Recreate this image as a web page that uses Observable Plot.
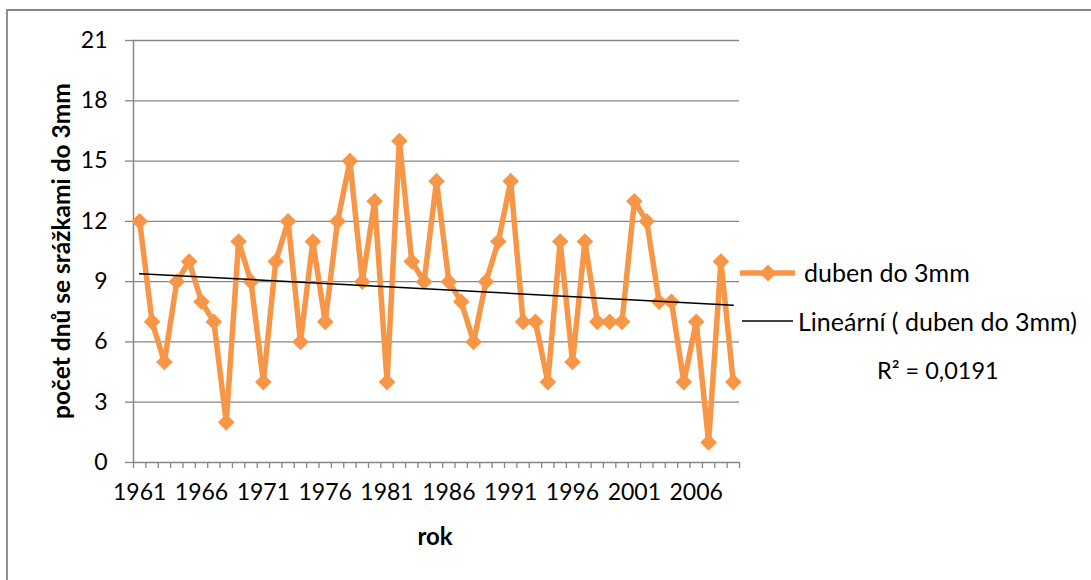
<!DOCTYPE html>
<html>
<head>
<meta charset="utf-8">
<script src="https://cdn.jsdelivr.net/npm/d3@7"></script>
<script src="https://cdn.jsdelivr.net/npm/@observablehq/plot@0.6"></script>
<style>
  html, body { margin: 0; padding: 0; background: #fff; }
  #chart { position: relative; width: 1091px; height: 580px; overflow: hidden; }
</style>
</head>
<body>
<div id="chart"></div>
<script>
// ---- data ----
const years = [1961,1962,1963,1964,1965,1966,1967,1968,1969,1970,
               1971,1972,1973,1974,1975,1976,1977,1978,1979,1980,
               1981,1982,1983,1984,1985,1986,1987,1988,1989,1990,
               1991,1992,1993,1994,1995,1996,1997,1998,1999,2000,
               2001,2002,2003,2004,2005,2006,2007,2008,2009];
const values = [12,7,5,9,10,8,7,2,11,9,
                4,10,12,6,11,7,12,15,9,13,
                4,16,10,9,14,9,8,6,9,11,
                14,7,7,4,11,5,11,7,7,7,
                13,12,8,8,4,7,1,10,4];
const xTickLabels = [1961,1966,1971,1976,1981,1986,1991,1996,2001,2006];
const yTicks = [0,3,6,9,12,15,18,21];
const seriesName = "duben do 3mm";
const trendName = "Lineární ( duben do 3mm)";
const r2Label = "R² = 0,0191";
const xTitle = "rok";
const yTitle = "počet dnů se srážkami do 3mm";

const data = years.map((y, i) => ({rok: y, dny: values[i]}));
const boundaries = years.map(y => y - 0.5).concat([years[years.length - 1] + 0.5]);

const ORANGE = "#F79646";
const GRID = "#868686";
const FONT = "Lato, 'Open Sans', sans-serif";
const FS = 23;

const svg = Plot.plot({
  width: 1091,
  height: 580,
  marginLeft: 133,
  marginRight: 352,
  marginTop: 40,
  marginBottom: 118,
  style: {fontFamily: FONT, fontSize: FS + "px", color: "#000", background: "#fff"},
  x: {type: "linear", domain: [boundaries[0], boundaries[boundaries.length - 1]]},
  y: {domain: [0, 21]},
  marks: [
    Plot.gridY(yTicks.filter(d => d > 0), {stroke: GRID, strokeOpacity: 1, strokeWidth: 1.3}),
    Plot.axisY(yTicks, {tickSize: 8, tickPadding: 18, stroke: GRID, strokeWidth: 1.3, fill: "#000", label: null, fontSize: FS}),
    Plot.axisX(boundaries, {tickSize: 6, tickPadding: 0, tickFormat: () => "", stroke: GRID, strokeWidth: 1.3, label: null}),
    Plot.axisX(xTickLabels, {tickSize: 0, tickPadding: 21, tickFormat: d => String(d), fill: "#000", label: null, fontSize: FS}),
    Plot.ruleX([boundaries[0]], {stroke: GRID, strokeWidth: 1.5}),
    Plot.ruleY([0], {stroke: GRID, strokeWidth: 1.5}),
    Plot.line(data, {x: "rok", y: "dny", stroke: ORANGE, strokeWidth: 5.5}),
    Plot.dot(data, {x: "rok", y: "dny", symbol: "diamond2", r: 7.5, fill: ORANGE, stroke: null}),
    Plot.linearRegressionY(data, {x: "rok", y: "dny", stroke: "#000", strokeWidth: 1.5, ci: 0})
  ]
});

const s = d3.select(svg);
// outer chart frame (left & top edges visible)
s.append("path").attr("d", "M7,600V10H1100").attr("fill", "none").attr("stroke", GRID).attr("stroke-width", 1.8);

// axis titles
s.append("text").attr("x", 435).attr("y", 545).attr("text-anchor", "middle")
  .attr("font-family", FONT).attr("font-size", 24).attr("font-weight", "bold").text(xTitle);
s.append("text").attr("transform", "translate(70,251) rotate(-90)").attr("text-anchor", "middle")
  .attr("font-family", FONT).attr("font-size", 24.5).attr("font-weight", "bold").text(yTitle);

// legend
const lg = s.append("g").attr("font-family", FONT).attr("font-size", 25).attr("text-anchor", "start");
lg.append("line").attr("x1", 740).attr("x2", 795).attr("y1", 273).attr("y2", 273)
  .attr("stroke", ORANGE).attr("stroke-width", 5.5);
lg.append("path").attr("d", d3.symbol(d3.symbolDiamond2, 180)()).attr("transform", "translate(768,273)").attr("fill", ORANGE);
lg.append("text").attr("x", 804).attr("y", 282).text(seriesName);
lg.append("line").attr("x1", 742).attr("x2", 793).attr("y1", 321).attr("y2", 321)
  .attr("stroke", "#000").attr("stroke-width", 1.5);
lg.append("text").attr("x", 798).attr("y", 331).text(trendName);
lg.append("text").attr("x", 877).attr("y", 379).attr("font-size", 23.5).text(r2Label);

document.getElementById("chart").appendChild(svg);
</script>
</body>
</html>
